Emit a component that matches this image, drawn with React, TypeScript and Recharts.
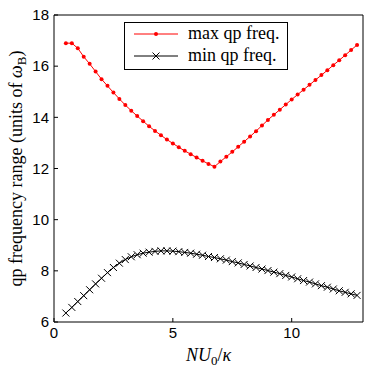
import { Label, Legend, Line, LineChart, XAxis, YAxis } from 'recharts'

const nu = [
  0.5, 0.75, 1, 1.25, 1.5, 1.75, 2, 2.25, 2.5, 2.75,
  3, 3.25, 3.5, 3.75, 4, 4.25, 4.5, 4.75, 5, 5.25,
  5.5, 5.75, 6, 6.25, 6.5, 6.75, 7, 7.25, 7.5, 7.75,
  8, 8.25, 8.5, 8.75, 9, 9.25, 9.5, 9.75, 10, 10.25,
  10.5, 10.75, 11, 11.25, 11.5, 11.75, 12, 12.25, 12.5, 12.75,
]

const maxFreq = [
  16.9, 16.9, 16.7, 16.37, 16.09, 15.79, 15.49, 15.23, 14.97, 14.72,
  14.48, 14.26, 14.05, 13.85, 13.65, 13.47, 13.3, 13.13, 12.98, 12.83,
  12.69, 12.56, 12.43, 12.3, 12.18, 12.07, 12.27, 12.46, 12.65, 12.85,
  13.05, 13.25, 13.46, 13.68, 13.9, 14.1, 14.3, 14.5, 14.7, 14.89,
  15.08, 15.27, 15.46, 15.65, 15.84, 16.04, 16.23, 16.43, 16.63, 16.83,
]

const minFreq = [
  6.35, 6.57, 6.8, 7.03, 7.26, 7.49, 7.71, 7.93, 8.13, 8.3,
  8.44, 8.55, 8.63, 8.69, 8.73, 8.76, 8.78, 8.78, 8.77, 8.75,
  8.72, 8.69, 8.65, 8.61, 8.56, 8.52, 8.47, 8.42, 8.36, 8.31,
  8.25, 8.19, 8.13, 8.07, 8.01, 7.95, 7.89, 7.82, 7.76, 7.69,
  7.62, 7.56, 7.49, 7.42, 7.36, 7.29, 7.22, 7.16, 7.1, 7.04,
]

const xTicks = [0, 5, 10]
const yTicks = [6, 8, 10, 12, 14, 16, 18]

const data = nu.map((x, i) => ({ x, max: maxFreq[i], min: minFreq[i] }))

const SERIF = 'Liberation Serif, Times New Roman, serif'
const SANS = 'Liberation Sans, Arial, sans-serif'
const tickStyle = { fill: '#000', fontSize: 15, fontFamily: SANS }

function Cross(props: any) {
  const { cx, cy } = props
  if (cx == null || cy == null) return null
  const s = 3.5
  return (
    <path
      key={props.key ?? `${cx}-${cy}`}
      d={`M${cx - s},${cy - s}L${cx + s},${cy + s}M${cx - s},${cy + s}L${cx + s},${cy - s}`}
      stroke="#000"
      strokeWidth={1}
      fill="none"
    />
  )
}

function LegendBox() {
  return (
    <div
      style={{
        width: 164,
        height: 48,
        border: '1px solid #000',
        background: '#fff',
        boxSizing: 'border-box',
      }}
    >
      <svg width={162} height={46} style={{ display: 'block' }}>
        <line x1={9} x2={53} y1={11} y2={11} stroke="#f00" strokeWidth={1} />
        <circle cx={31} cy={11} r={2} fill="#f00" />
        <text x={63} y={16} fontFamily={SERIF} fontSize={18} fill="#000">
          max qp freq.
        </text>
        <line x1={9} x2={53} y1={33} y2={33} stroke="#000" strokeWidth={1} />
        <Cross cx={31} cy={33} />
        <text x={63} y={38} fontFamily={SERIF} fontSize={18} fill="#000">
          min qp freq.
        </text>
      </svg>
    </div>
  )
}

function XTitle(props: any) {
  const { x, y, width } = props.viewBox
  return (
    <text x={x + width / 2} y={y + 39} textAnchor="middle" fontFamily={SERIF} fontSize={18} fill="#000">
      <tspan fontStyle="italic">NU</tspan>
      <tspan fontSize={13} dy={4}>0</tspan>
      <tspan dy={-4}>/</tspan>
      <tspan fontStyle="italic">κ</tspan>
    </text>
  )
}

function YTitle(props: any) {
  const { x, y, height } = props.viewBox
  const cx = x + 22
  const cy = y + height / 2
  return (
    <text
      x={cx}
      y={cy}
      transform={`rotate(-90 ${cx} ${cy})`}
      textAnchor="middle"
      fontFamily={SERIF}
      fontSize={18}
      fill="#000"
    >
      qp frequency range (units of <tspan fontStyle="italic">ω</tspan>
      <tspan fontSize={13} dy={4}>B</tspan>
      <tspan dy={-4}>)</tspan>
    </text>
  )
}

export default function App() {
  return (
    <div style={{ position: 'absolute', left: 0, top: 0, background: '#fff' }}>
      <LineChart width={374} height={372} data={data} margin={{ top: 14, right: 10, left: 0, bottom: 0 }}>
        <XAxis
          dataKey="x"
          type="number"
          domain={[0, 13]}
          ticks={xTicks}
          height={50}
          tickSize={-4}
          tickMargin={9}
          tick={tickStyle}
          stroke="#000"
          axisLine={{ stroke: '#000' }}
          tickLine={{ stroke: '#000' }}
        >
          <Label content={XTitle} />
        </XAxis>
        <XAxis
          xAxisId="top"
          orientation="top"
          type="number"
          domain={[0, 13]}
          ticks={xTicks}
          height={1}
          tickSize={-4}
          tick={false}
          axisLine={{ stroke: '#000' }}
          tickLine={{ stroke: '#000' }}
        />
        <YAxis
          type="number"
          domain={[6, 18]}
          ticks={yTicks}
          width={54}
          tickSize={-4}
          tickMargin={9}
          tick={tickStyle}
          axisLine={{ stroke: '#000' }}
          tickLine={{ stroke: '#000' }}
        >
          <Label content={YTitle} />
        </YAxis>
        <YAxis
          yAxisId="right"
          orientation="right"
          type="number"
          domain={[6, 18]}
          ticks={yTicks}
          width={1}
          tickSize={-4}
          tick={false}
          axisLine={{ stroke: '#000' }}
          tickLine={{ stroke: '#000' }}
        />
        <Legend
          content={LegendBox}
          layout="vertical"
          align="center"
          verticalAlign="middle"
          wrapperStyle={{ left: 124, top: 22, width: 164 }}
        />
        <Line
          type="linear"
          dataKey="max"
          stroke="#f00"
          strokeWidth={1}
          dot={{ r: 2, fill: '#f00', stroke: 'none' }}
          isAnimationActive={false}
        />
        <Line
          type="linear"
          dataKey="min"
          stroke="#000"
          strokeWidth={1}
          dot={(p: any) => <Cross key={p.index} cx={p.cx} cy={p.cy} />}
          isAnimationActive={false}
        />
      </LineChart>
    </div>
  )
}
